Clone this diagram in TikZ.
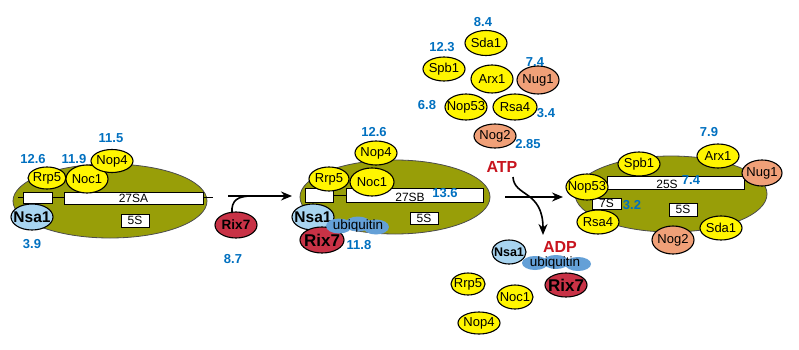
\documentclass[tikz,border=0pt]{standalone}
\usepackage{fontspec}
\setmainfont{Liberation Sans}
\usetikzlibrary{shapes.geometric,arrows.meta}
\definecolor{bodyc}{RGB}{152,158,8}
\definecolor{yelc}{RGB}{255,245,0}
\definecolor{lbluec}{RGB}{168,212,240}
\definecolor{rixc}{RGB}{200,50,70}
\definecolor{orgc}{RGB}{240,160,120}
\definecolor{numc}{RGB}{0,112,192}
\definecolor{ubqc}{RGB}{100,160,215}
\definecolor{atpc}{RGB}{200,20,30}
\newcommand\zb[1]{\makebox[0pt]{#1}}
\begin{document}
\begin{tikzpicture}[x=1pt,y=-1pt,
 prot/.style={ellipse,draw=black,line width=1.1pt,inner sep=0pt,minimum width=42pt,minimum height=25pt,font=\fontsize{13}{15}\selectfont},
 yel/.style={prot,fill=yelc},
 org/.style={prot,fill=orgc},
 nsa/.style={prot,fill=lbluec,font=\fontsize{15.5}{17}\selectfont\bfseries},
 rix/.style={prot,fill=rixc,font=\fontsize{17}{19}\selectfont\bfseries},
 body/.style={ellipse,fill=bodyc,draw=black!70,line width=0.8pt,inner sep=0pt},
 rna/.style={rectangle,draw=black,fill=white,line width=0.7pt,inner sep=0pt,font=\fontsize{12}{13}\selectfont},
 rnatxt/.style={inner sep=0pt,font=\fontsize{12}{13}\selectfont},
 num/.style={text=numc,font=\fontsize{13}{15}\selectfont\bfseries,inner sep=0pt},
 ubq/.style={ellipse,fill=ubqc,inner sep=0pt,minimum width=26pt,minimum height=15pt},
 ubqtxt/.style={inner sep=0pt,font=\fontsize{13.5}{15}\selectfont},
 nuc/.style={text=atpc,font=\fontsize{16}{18}\selectfont\bfseries,inner sep=0pt},
 arr/.style={line width=1.6pt,-{Stealth[length=11pt,width=9pt]}},
 conn/.style={line width=1.6pt}
]
\useasboundingbox (0,0) rectangle (799,350);
\fill[white] (0,0) rectangle (799,350);

% ---------- panel 1
\node[body,minimum width=194pt,minimum height=74pt] (b1) at (110,201) {};
\coordinate (l1a) at (18,197);
\coordinate (l1b) at (213,197);
\draw[line width=0.8pt] (l1a) -- (l1b);
\node[rna,minimum width=29pt,minimum height=11pt] (r1a) at (37.5,197.5) {};
\node[rna,minimum width=139pt,minimum height=12pt] (r1b) at (133.5,198) {\zb{27SA}};
\node[rna,minimum width=28pt,minimum height=13pt] (r1c) at (135,220.5) {\zb{5S}};
\node[yel,minimum width=38pt,minimum height=22pt] (rrp5a) at (47,178) {\zb{Rrp5}};
\node[yel,minimum height=28pt] (noc1a) at (87,179) {\zb{Noc1}};
\node[yel,minimum height=23pt] (nop4a) at (112,161) {\zb{Nop4}};
\node[nsa,minimum height=26pt] (nsa1a) at (32,217) {\zb{Nsa1}};
\node[num] (n1a) at (33,159) {12.6};
\node[num] (n1b) at (74,159) {11.9};
\node[num] (n1c) at (111,138) {11.5};
\node[num] (n1d) at (32,244) {3.9};

% ---------- arrow 1 with Rix7
\node[rix,minimum height=26pt,font=\fontsize{13.5}{15}\selectfont\bfseries] (rix1) at (236,225) {\zb{Rix7}};
\node[num] (n1e) at (233,259) {8.7};
\coordinate (a1s) at (228,196);
\coordinate (a1e) at (292,196);
\coordinate (c1s) at (232,213);
\coordinate (c1e) at (252,196);
\draw[arr] (a1s) -- (a1e);
\draw[conn] (c1s) .. controls (231,200) and (238,196) .. (c1e);

% ---------- panel 2
\node[body,minimum width=190pt,minimum height=74pt] (b2) at (395,197) {};
\coordinate (l2a) at (333,195);
\coordinate (l2b) at (346,195);
\draw[line width=0.8pt] (l2a) -- (l2b);
\node[rna,minimum width=28pt,minimum height=14pt] (r2a) at (319,195) {};
\node[rna,minimum width=137pt,minimum height=14pt] (r2b) at (414.5,195) {};
\node[rnatxt] (t2b) at (410,197) {27SB};
\node[rna,minimum width=28pt,minimum height=12pt] (r2c) at (424,218) {\zb{5S}};
\node[yel,minimum height=24pt] (nop4b) at (376,153) {\zb{Nop4}};
\node[yel,minimum width=40pt,minimum height=24pt] (rrp5b) at (329,179) {\zb{Rrp5}};
\node[yel,minimum width=44pt,minimum height=28pt] (noc1b) at (372,182) {\zb{Noc1}};
\node[nsa,minimum height=26pt] (nsa1b) at (313,217) {\zb{Nsa1}};
\node[rix,minimum width=44pt,minimum height=26pt] (rix2) at (322,240) {\zb{Rix7}};
\node[ubq] (u2a) at (339,226) {};
\node[ubq] (u2b) at (358,224) {};
\node[ubq] (u2c) at (376,227) {};
\node[ubqtxt] (u2t) at (358,226) {ubiquitin};
\node[num] (n2a) at (445,193) {13.6};
\node[num] (n2b) at (374,132) {12.6};
\node[num] (n2c) at (359,245) {11.8};

% ---------- released cluster (top)
\node[yel] (sda1c) at (486,43) {\zb{Sda1}};
\node[yel,minimum height=24pt] (spb1c) at (444,69) {\zb{Spb1}};
\node[yel,minimum height=28pt] (arx1c) at (492,79) {\zb{Arx1}};
\node[org,minimum height=28pt] (nug1c) at (538,80) {\zb{Nug1}};
\node[yel,minimum height=26pt] (nop53c) at (466,107) {\zb{Nop53}};
\node[yel,minimum width=44pt,minimum height=26pt] (rsa4c) at (515,107) {\zb{Rsa4}};
\node[org,minimum height=24pt] (nog2c) at (495,136) {\zb{Nog2}};
\node[num] (n3a) at (483,22) {8.4};
\node[num] (n3b) at (442,47) {12.3};
\node[num] (n3c) at (535,62) {7.4};
\node[num] (n3d) at (427,105) {6.8};
\node[num] (n3e) at (546,113) {3.4};
\node[num] (n3f) at (528,144) {2.85};

% ---------- arrow 2 with ATP / ADP
\node[nuc] (atp) at (502,167) {ATP};
\node[nuc] (adp) at (560,247) {ADP};
\coordinate (a2s) at (505,197);
\coordinate (a2e) at (563,197);
\coordinate (c2s) at (513,177);
\coordinate (c2e) at (543,235);
\draw[arr] (a2s) -- (a2e);
\draw[arr] (c2s) .. controls (514,197) and (543,190) .. (c2e);

% ---------- released factors (bottom)
\node[nsa,minimum width=34pt,minimum height=24pt,font=\fontsize{12.5}{14}\selectfont\bfseries] (nsa1d) at (509,252) {\zb{Nsa1}};
\node[ubq,minimum height=14pt] (u4a) at (535,263) {};
\node[ubq,minimum height=14pt] (u4b) at (556,262) {};
\node[ubq,minimum height=14pt] (u4c) at (578,264) {};
\node[ubqtxt] (u4t) at (555,263) {ubiquitin};
\node[rix,minimum height=24pt] (rix4) at (566,285) {\zb{Rix7}};
\node[yel,minimum width=34pt,minimum height=22pt] (rrp5d) at (468,284) {\zb{Rrp5}};
\node[yel,minimum width=36pt,minimum height=24pt] (noc1d) at (515,297) {\zb{Noc1}};
\node[yel,minimum height=22pt] (nop4d) at (479,323) {\zb{Nop4}};

% ---------- panel 3
\node[body,minimum width=192pt,minimum height=76pt] (b3) at (671,194) {};
\node[rna,minimum width=137pt,minimum height=13pt] (r3a) at (675.5,182.5) {};
\node[rnatxt] (t3a) at (667,184) {25S};
\node[rna,minimum width=29pt,minimum height=11pt] (r3b) at (606.5,203.5) {\zb{7S}};
\node[rna,minimum width=28pt,minimum height=13pt] (r3c) at (683,209.5) {\zb{5S}};
\node[yel,minimum height=24pt] (spb1e) at (639,164) {\zb{Spb1}};
\node[yel,minimum height=24pt] (arx1e) at (718,156) {\zb{Arx1}};
\node[org,minimum width=40pt,minimum height=26pt] (nug1e) at (762,173) {\zb{Nug1}};
\node[yel,minimum height=26pt] (nop53e) at (587,187) {\zb{Nop53}};
\node[yel,minimum height=24pt] (rsa4e) at (598,222) {\zb{Rsa4}};
\node[org,minimum height=28pt] (nog2e) at (673,240) {\zb{Nog2}};
\node[yel,minimum height=24pt] (sda1e) at (721,228) {\zb{Sda1}};
\node[num] (n5a) at (709,132) {7.9};
\node[num] (n5b) at (691,180) {7.4};
\node[num] (n5c) at (632,205) {3.2};
\end{tikzpicture}
\end{document}
